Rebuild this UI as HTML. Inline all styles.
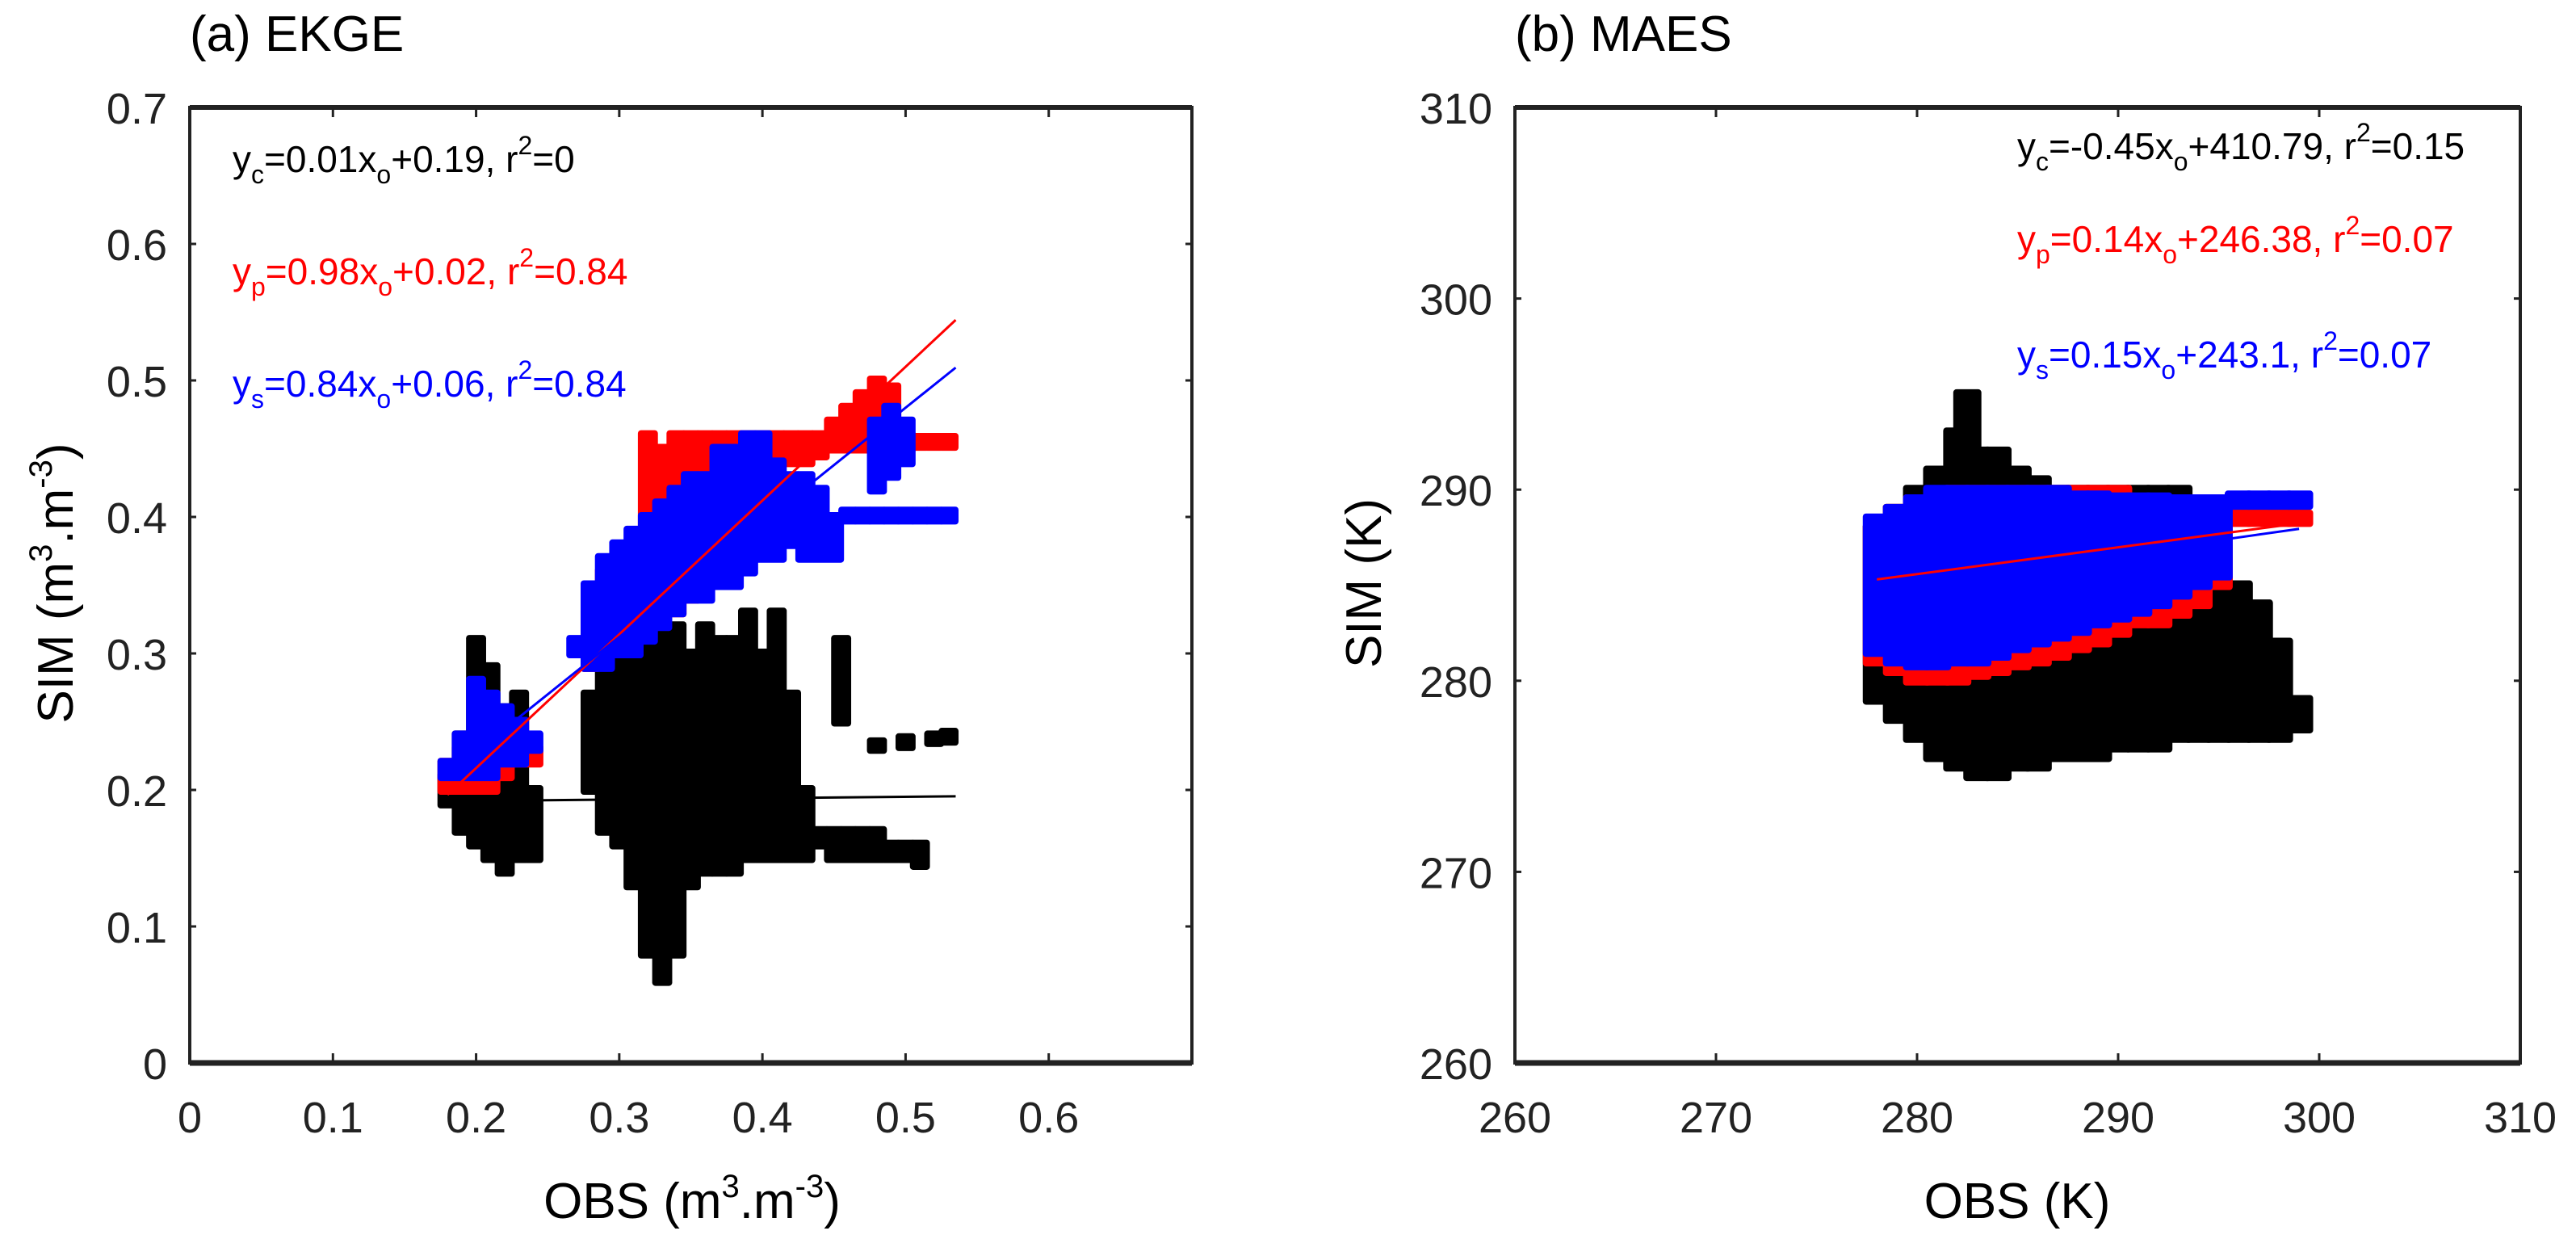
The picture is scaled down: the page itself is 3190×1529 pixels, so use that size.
<!DOCTYPE html>
<html><head><meta charset="utf-8"><style>
html,body{margin:0;padding:0;background:#fff;}
svg{display:block;font-family:"Liberation Sans",sans-serif;}
</style></head><body>
<svg id="fig" width="3190" height="1529" viewBox="0 0 3190 1529" xmlns="http://www.w3.org/2000/svg">
<rect x="0" y="0" width="3190" height="1529" fill="#fff"/>
<g id="marks-a"></g>
<g id="marks-b"></g>
<g id="axes"></g>
<text x="235" y="63" font-size="62">(a)  EKGE</text>
<text x="1876" y="63" font-size="62">(b)  MAES</text>
<text x="857" y="1508" font-size="62" text-anchor="middle">OBS (m<tspan font-size="40" dy="-26">3</tspan><tspan dy="26">.m</tspan><tspan font-size="40" dy="-26">-3</tspan><tspan dy="26">)</tspan></text>
<text transform="translate(90,722) rotate(-90)" font-size="62" text-anchor="middle">SIM (m<tspan font-size="40" dy="-26">3</tspan><tspan dy="26">.m</tspan><tspan font-size="40" dy="-26">-3</tspan><tspan dy="26">)</tspan></text>
<text x="2498" y="1508" font-size="62" text-anchor="middle">OBS (K)</text>
<text transform="translate(1710,722) rotate(-90)" font-size="62" text-anchor="middle">SIM (K)</text>
<g font-size="46">
<text x="288" y="213" fill="#000">y<tspan font-size="32" dy="14">c</tspan><tspan dy="-14">=0.01x</tspan><tspan font-size="32" dy="14">o</tspan><tspan dy="-14">+0.19, r</tspan><tspan font-size="32" dy="-22">2</tspan><tspan dy="22">=0</tspan></text>
<text x="288" y="352" fill="#ff0000">y<tspan font-size="32" dy="14">p</tspan><tspan dy="-14">=0.98x</tspan><tspan font-size="32" dy="14">o</tspan><tspan dy="-14">+0.02, r</tspan><tspan font-size="32" dy="-22">2</tspan><tspan dy="22">=0.84</tspan></text>
<text x="288" y="491" fill="#0000ff">y<tspan font-size="32" dy="14">s</tspan><tspan dy="-14">=0.84x</tspan><tspan font-size="32" dy="14">o</tspan><tspan dy="-14">+0.06, r</tspan><tspan font-size="32" dy="-22">2</tspan><tspan dy="22">=0.84</tspan></text>
</g>
<g font-size="46">
<text x="2498" y="197" fill="#000">y<tspan font-size="32" dy="14">c</tspan><tspan dy="-14">=-0.45x</tspan><tspan font-size="32" dy="14">o</tspan><tspan dy="-14">+410.79, r</tspan><tspan font-size="32" dy="-22">2</tspan><tspan dy="22">=0.15</tspan></text>
<text x="2498" y="312" fill="#ff0000">y<tspan font-size="32" dy="14">p</tspan><tspan dy="-14">=0.14x</tspan><tspan font-size="32" dy="14">o</tspan><tspan dy="-14">+246.38, r</tspan><tspan font-size="32" dy="-22">2</tspan><tspan dy="22">=0.07</tspan></text>
<text x="2498" y="455" fill="#0000ff">y<tspan font-size="32" dy="14">s</tspan><tspan dy="-14">=0.15x</tspan><tspan font-size="32" dy="14">o</tspan><tspan dy="-14">+243.1, r</tspan><tspan font-size="32" dy="-22">2</tspan><tspan dy="22">=0.07</tspan></text>
</g>
</svg>
<script>
// ---- Panel (a) data: columns [obs, simLow, simHigh] ----
const aBlack = [[0.18,0.19,0.21],[0.19,0.17,0.24],[0.20,0.16,0.31],[0.21,0.15,0.29],[0.22,0.14,0.26],[0.23,0.15,0.27],[0.24,0.15,0.20],
[0.28,0.20,0.27],[0.29,0.17,0.32],[0.30,0.16,0.30],[0.31,0.13,0.31],[0.32,0.08,0.32],[0.33,0.06,0.32],[0.34,0.08,0.32],[0.35,0.13,0.30],
[0.36,0.14,0.32],[0.37,0.14,0.31],[0.38,0.14,0.31],[0.39,0.15,0.33],[0.40,0.15,0.30],[0.41,0.15,0.33],[0.42,0.15,0.27],[0.43,0.15,0.20],
[0.44,0.16,0.17],[0.45,0.15,0.17],[0.455,0.25,0.31],[0.46,0.15,0.17],[0.47,0.15,0.17],[0.48,0.15,0.17],[0.49,0.15,0.16],[0.50,0.15,0.16],[0.51,0.145,0.16],
[0.48,0.23,0.235],[0.50,0.232,0.238],[0.52,0.235,0.24],[0.53,0.236,0.242]];
const aRed = [[0.18,0.20,0.22],[0.19,0.20,0.23],[0.20,0.20,0.23],[0.21,0.20,0.24],[0.22,0.21,0.24],[0.23,0.22,0.25],[0.24,0.22,0.23],
[0.28,0.29,0.33],[0.29,0.30,0.36],[0.30,0.30,0.37],[0.31,0.31,0.38],[0.32,0.32,0.46],[0.33,0.33,0.45],[0.34,0.33,0.46],[0.35,0.34,0.46],
[0.36,0.35,0.46],[0.37,0.37,0.46],[0.38,0.38,0.46],[0.39,0.40,0.46],[0.40,0.43,0.46],[0.41,0.44,0.46],[0.42,0.44,0.46],[0.43,0.44,0.46],
[0.44,0.445,0.46],[0.45,0.45,0.47],[0.46,0.45,0.48],[0.47,0.45,0.49],[0.48,0.45,0.50],[0.49,0.45,0.495],[0.50,0.45,0.46],[0.51,0.452,0.458],[0.52,0.452,0.458],[0.53,0.452,0.458]];
const aBlue = [[0.18,0.21,0.22],[0.19,0.21,0.24],[0.20,0.21,0.28],[0.21,0.21,0.27],[0.22,0.22,0.26],[0.23,0.22,0.25],[0.24,0.23,0.24],
[0.27,0.30,0.31],[0.28,0.29,0.35],[0.29,0.29,0.37],[0.30,0.30,0.38],[0.31,0.30,0.39],[0.32,0.31,0.40],[0.33,0.32,0.41],[0.34,0.33,0.42],
[0.35,0.34,0.43],[0.36,0.34,0.43],[0.37,0.35,0.45],[0.38,0.35,0.45],[0.39,0.36,0.46],[0.40,0.37,0.46],[0.41,0.37,0.44],[0.42,0.38,0.43],
[0.43,0.37,0.43],[0.44,0.37,0.42],[0.45,0.37,0.40],[0.46,0.398,0.404],[0.47,0.398,0.404],[0.48,0.398,0.404],[0.49,0.398,0.404],[0.50,0.398,0.404],
[0.51,0.398,0.404],[0.52,0.398,0.404],[0.53,0.398,0.404],[0.48,0.42,0.47],[0.49,0.43,0.48],[0.50,0.44,0.47]];
// fit lines [slope, intercept, xStart, xEnd]
const aFits = [[0.01,0.19,0.18,0.535,'#000'],[0.98,0.02,0.18,0.535,'#ff0000'],[0.84,0.06,0.18,0.535,'#0000ff']];
const aXTicks = [0,0.1,0.2,0.3,0.4,0.5,0.6];
const aXTickLabels = ['0','0.1','0.2','0.3','0.4','0.5','0.6'];
const aYTicks = [0,0.1,0.2,0.3,0.4,0.5,0.6,0.7];
const aYTickLabels = ['0','0.1','0.2','0.3','0.4','0.5','0.6','0.7'];

// ---- Panel (b) data ----
const bBlack = [[278,279,288],[279,278,289],[280,277,290],[281,276,291],[282,275.5,293],[282.5,288,295],[283,275,292],[284,275,292],[285,275.5,291],
[286,275.5,290.5],[287,276,290],[288,276,290],[289,276,290],[290,276.5,290],[291,276.5,290],[292,276.5,290],[293,277,290],[294,277,289],
[295,277,287],[296,277,285],[297,277,284],[298,277,282],[299,277.5,279]];
const bRed = [[278,281,288],[279,280.5,289],[280,280,289.5],[281,280,289.5],[282,280,290],[283,280.3,290],[284,280.5,290],[285,280.8,290],
[286,281,290],[287,281.3,290],[288,281.7,290],[289,282,290],[290,282.5,290],[291,283,289.5],[292,283,289],[293,283.5,289],[294,284,289],
[295,285,288.8],[296,288.3,288.7],[297,288.3,288.7],[298,288.3,288.7],[299,288.3,288.7]];
const bBlue = [[278,281.5,288.5],[279,281,289],[280,280.8,289.5],[281,280.8,290],[282,281,290],[283,281,290],[284,281.3,290],[285,281.7,290],
[286,282,290],[287,282.3,290],[288,282.6,289.7],[289,283,289.7],[290,283.3,289.6],[291,283.6,289.6],[292,284,289.6],[293,284.5,289.5],
[294,285,289.5],[295,285.5,289.5],[296,289.2,289.7],[297,289.2,289.7],[298,289.2,289.7],[299,289.2,289.7]];
const bFits = [[0.14,246.38,278,299,'#ff0000'],[0.15,243.1,278,299,'#0000ff']];
const bXTicks = [260,270,280,290,300,310];
const bXTickLabels = ['260','270','280','290','300','310'];
const bYTicks = [260,270,280,290,300,310];
const bYTickLabels = ['260','270','280','290','300','310'];

const NS = 'http://www.w3.org/2000/svg';
function mk(tag, attrs, parent){ const e=document.createElementNS(NS,tag); for(const k in attrs) e.setAttribute(k,attrs[k]); parent.appendChild(e); return e; }

function panel(cfg){
  const xs = v => cfg.L + (v-cfg.x0)/(cfg.x1-cfg.x0)*(cfg.R-cfg.L);
  const ys = v => cfg.B - (v-cfg.y0)/(cfg.y1-cfg.y0)*(cfg.B-cfg.T);
  const g = document.getElementById(cfg.gid);
  const w = (xs(cfg.x0+cfg.step)-xs(cfg.x0))*1.4;
  cfg.series.forEach(s=>{
    const sg = mk('g',{},g);
    
    
    s.data.forEach(d=>{
      const r = mk('rect',{x:xs(d[0])-w/2, y:ys(d[2])-6, width:w, height:ys(d[1])-ys(d[2])+12, rx:4, fill:s.color},sg);
      
      
    });
  });
  cfg.fits.forEach(f=>{
    const l = mk('line',{x1:xs(f[2]),y1:ys(f[0]*f[2]+f[1]),x2:xs(f[3]),y2:ys(f[0]*f[3]+f[1]),stroke:f[4],'stroke-width':3},g);
    
    
  });
  const ax = document.getElementById('axes');
  const frame = mk('rect',{x:cfg.L,y:cfg.T,width:cfg.R-cfg.L,height:cfg.B-cfg.T,fill:'none',stroke:'#222','stroke-width':4},ax);
  
  
  mk('line',{x1:cfg.L,y1:cfg.B,x2:cfg.R,y2:cfg.B,stroke:'#222','stroke-width':7},ax);
  mk('line',{x1:cfg.L,y1:cfg.T,x2:cfg.R,y2:cfg.T,stroke:'#222','stroke-width':6},ax);
  cfg.xt.forEach((v,i)=>{
    const x=xs(v);
    mk('line',{x1:x,y1:cfg.B,x2:x,y2:cfg.B-12,stroke:'#222','stroke-width':3},ax);
    mk('line',{x1:x,y1:cfg.T,x2:x,y2:cfg.T+12,stroke:'#222','stroke-width':3},ax);
    const t=mk('text',{x:x,y:1402,'font-size':54,'text-anchor':'middle',fill:'#222'},ax);
    t.textContent=cfg.xl[i];
    
    
  });
  cfg.yt.forEach((v,i)=>{
    const y=ys(v);
    mk('line',{x1:cfg.L,y1:y,x2:cfg.L+8,y2:y,stroke:'#222','stroke-width':3},ax);
    mk('line',{x1:cfg.R,y1:y,x2:cfg.R-8,y2:y,stroke:'#222','stroke-width':3},ax);
    const t=mk('text',{x:cfg.L-28,y:y+20,'font-size':54,'text-anchor':'end',fill:'#222'},ax);
    t.textContent=cfg.yl[i];
    
    
  });
}
panel({gid:'marks-a',pref:'a',L:235,R:1476,T:133,B:1316,x0:0,x1:0.7,y0:0,y1:0.7,step:0.01,
  series:[{name:'control-points-a',color:'#000',data:aBlack},{name:'p-points-a',color:'#ff0000',data:aRed},{name:'s-points-a',color:'#0000ff',data:aBlue}],
  fits:aFits,xt:aXTicks,xl:aXTickLabels,yt:aYTicks,yl:aYTickLabels});
panel({gid:'marks-b',pref:'b',L:1876,R:3121,T:133,B:1316,x0:260,x1:310,y0:260,y1:310,step:1,
  series:[{name:'control-points-b',color:'#000',data:bBlack},{name:'p-points-b',color:'#ff0000',data:bRed},{name:'s-points-b',color:'#0000ff',data:bBlue}],
  fits:bFits,xt:bXTicks,xl:bXTickLabels,yt:bYTicks,yl:bYTickLabels});
</script>
</body></html>
